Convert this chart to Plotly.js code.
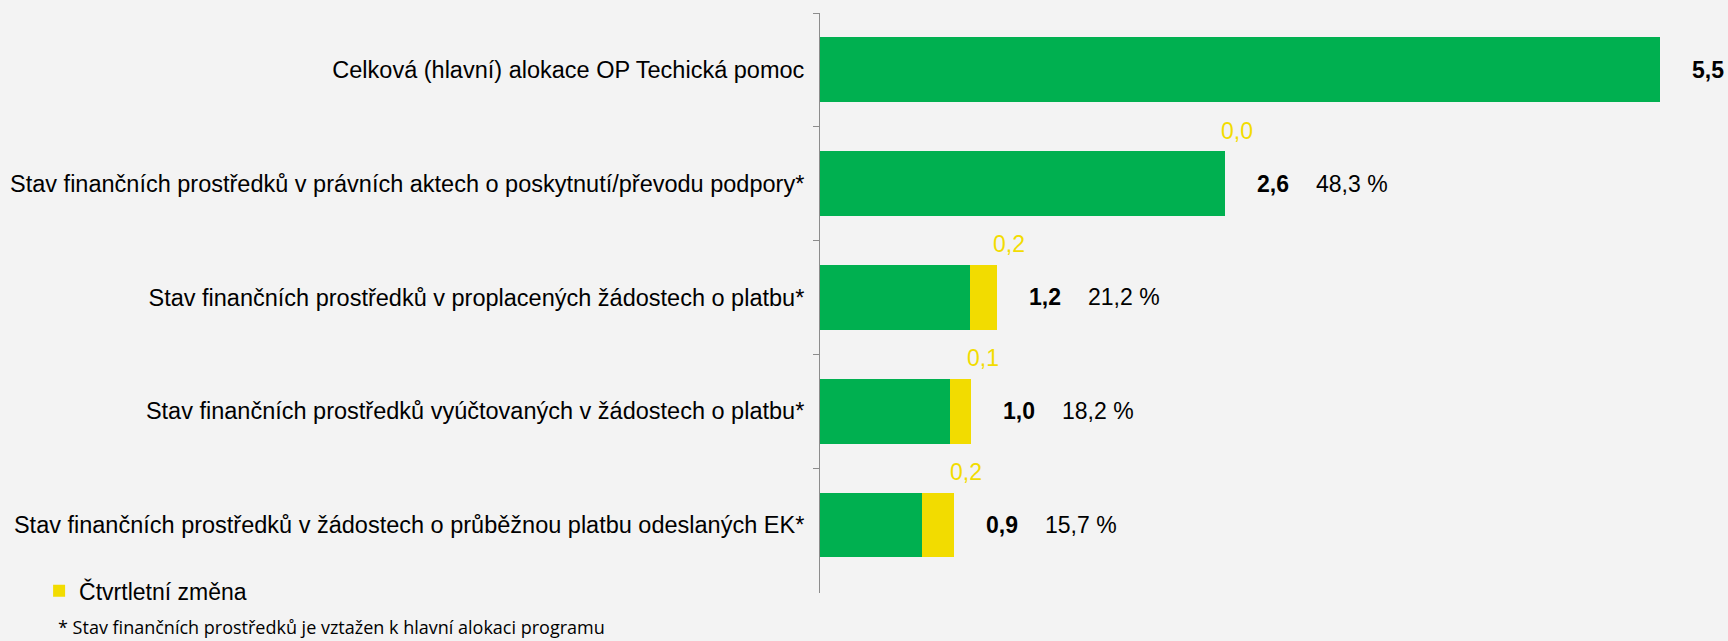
<!DOCTYPE html>
<html>
<head>
<meta charset="utf-8">
<script src="https://cdn.plot.ly/plotly-3.0.1.min.js"></script>
<style>html,body{margin:0;padding:0;background:#f3f3f3;}#chart{width:1728px;height:641px;}</style>
</head>
<body>
<div id="chart"></div>
<script>
const categories = [
  "Celková (hlavní) alokace OP Techická pomoc",
  "Stav finančních prostředků v právních aktech o poskytnutí/převodu podpory*",
  "Stav finančních prostředků v proplacených žádostech o platbu*",
  "Stav finančních prostředků vyúčtovaných v žádostech o platbu*",
  "Stav finančních prostředků v žádostech o průběžnou platbu odeslaných EK*"
];
const baseValues = [5.5, 2.65, 0.98, 0.85, 0.67];
const changeValues = [0, 0, 0.18, 0.14, 0.21];
const changeLabels = [null, "0,0", "0,2", "0,1", "0,2"];
const totalLabels = ["5,5", "2,6", "1,2", "1,0", "0,9"];
const percentLabels = [null, "48,3 %", "21,2 %", "18,2 %", "15,7 %"];
const legendName = "Čtvrtletní změna";
const footnote = "* Stav finančních prostředků je vztažen k hlavní alokaci programu";

const GREEN = "#00b050", YELLOW = "#f2dc00";
const FONT = "Liberation Sans, Arial, sans-serif";

const totals = baseValues.map((v, i) => v + changeValues[i]);

const traces = [
  {type: "bar", orientation: "h", y: categories, x: baseValues,
   marker: {color: GREEN}, showlegend: false, hoverinfo: "skip", name: "Stav"},
  {type: "bar", orientation: "h", y: categories, x: changeValues,
   marker: {color: YELLOW}, showlegend: true, hoverinfo: "skip", name: legendName}
];

const annotations = [];
categories.forEach((c, i) => {
  annotations.push({x: totals[i], y: c, xref: "x", yref: "y", text: "<b>" + totalLabels[i] + "</b>",
    showarrow: false, xanchor: "left", xshift: 30, font: {family: FONT, size: 23, color: "#000"}});
  if (percentLabels[i]) annotations.push({x: totals[i], y: c, xref: "x", yref: "y", text: percentLabels[i],
    showarrow: false, xanchor: "left", xshift: 89, font: {family: FONT, size: 23, color: "#000"}});
  if (changeLabels[i]) annotations.push({x: totals[i], y: c, xref: "x", yref: "y", text: changeLabels[i],
    showarrow: false, xanchor: "center", xshift: 12, yshift: 53, font: {family: FONT, size: 23, color: YELLOW}});
});
annotations.push({x: -0.8483, y: -0.0586, xref: "paper", yref: "paper", text: footnote, showarrow: false,
  xanchor: "left", yanchor: "middle", font: {family: "Open Sans, Noto Sans, sans-serif", size: 18, color: "#000"}});

const layout = {
  width: 1728, height: 641,
  paper_bgcolor: "#f3f3f3", plot_bgcolor: "#f3f3f3",
  margin: {l: 820, r: 7, t: 13, b: 48},
  barmode: "stack", bargap: 0.43,
  font: {family: FONT, size: 23, color: "#000"},
  xaxis: {range: [0, 5.9], visible: false, showgrid: false, zeroline: false},
  yaxis: {autorange: "reversed", type: "category", showline: true, linecolor: "#8c8c8c", linewidth: 1,
    ticks: "outside", tickson: "boundaries", ticklen: 6, tickcolor: "#8c8c8c",
    ticklabelstandoff: 10, showgrid: false, zeroline: false,
    tickfont: {family: FONT, size: 23.5, color: "#000"}},
  showlegend: true,
  legend: {x: -0.8667, y: 0.0038, xanchor: "left", yanchor: "middle", bgcolor: "rgba(0,0,0,0)",
    font: {family: FONT, size: 23, color: "#000"}, itemwidth: 30},
  annotations: annotations
};

Plotly.newPlot("chart", traces, layout, {displayModeBar: false, staticPlot: true});
</script>
</body>
</html>
